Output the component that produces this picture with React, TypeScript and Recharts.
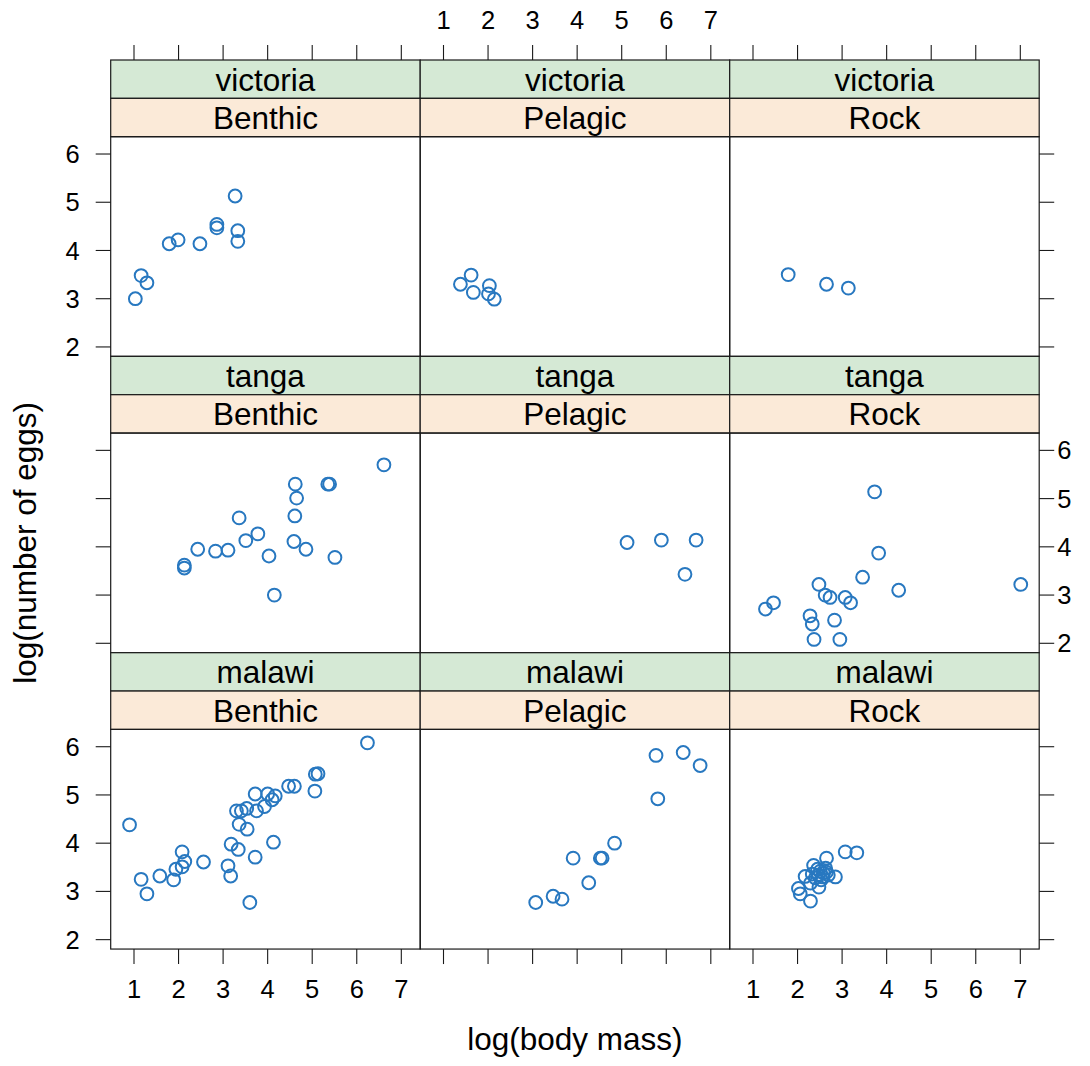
import React from 'react';
import { ScatterChart, Scatter, XAxis, YAxis } from 'recharts';

// ---------- data ----------
const lakes = ['victoria', 'tanga', 'malawi'];
const habitats = ['Benthic', 'Pelagic', 'Rock'];
const xTicks = [1, 2, 3, 4, 5, 6, 7];
const yTicks = [2, 3, 4, 5, 6];
const xTitle = 'log(body mass)';
const yTitle = 'log(number of eggs)';

const victoriaBenthicX = [3.27, 2.86, 2.86, 3.33, 3.33, 1.79, 1.99, 2.48, 1.16, 1.29, 1.03];
const victoriaBenthicY = [5.13, 4.54, 4.47, 4.41, 4.19, 4.14, 4.22, 4.14, 3.48, 3.33, 3.0];
const victoriaPelagicX = [1.38, 1.62, 1.67, 2.03, 2.01, 2.14];
const victoriaPelagicY = [3.3, 3.49, 3.13, 3.27, 3.1, 2.99];
const victoriaRockX = [1.79, 2.65, 3.14];
const victoriaRockY = [3.5, 3.3, 3.22];

const tangaBenthicX = [6.61, 4.62, 5.35, 5.39, 4.65, 4.61, 3.36, 3.78, 3.51, 4.59, 4.86, 2.43, 2.83, 3.11, 4.03, 5.51, 2.13, 2.13, 4.15];
const tangaBenthicY = [5.7, 5.3, 5.3, 5.3, 5.01, 4.64, 4.6, 4.27, 4.13, 4.11, 3.95, 3.95, 3.91, 3.93, 3.81, 3.78, 3.62, 3.56, 3.0];
const tangaPelagicX = [5.12, 5.89, 6.67, 6.42];
const tangaPelagicY = [4.09, 4.14, 4.14, 3.43];
const tangaRockX = [3.73, 3.82, 3.46, 2.48, 4.27, 7.01, 2.62, 2.73, 3.07, 3.19, 1.46, 1.28, 2.28, 2.33, 2.83, 2.37, 2.95];
const tangaRockY = [5.14, 3.87, 3.37, 3.22, 3.1, 3.22, 3.0, 2.95, 2.95, 2.84, 2.84, 2.71, 2.57, 2.4, 2.48, 2.08, 2.08];

const malawiBenthicX = [6.24, 5.07, 5.13, 5.06, 4.47, 4.6, 3.72, 4.0, 4.17, 4.1, 3.93, 3.75, 3.53, 3.41, 3.3, 3.36, 3.54, 4.13, 3.18, 3.34, 3.72, 0.9, 2.08, 2.14, 2.56, 2.08, 1.94, 3.11, 3.17, 1.58, 1.16, 1.89, 1.29, 3.6];
const malawiBenthicY = [6.08, 5.43, 5.44, 5.08, 5.18, 5.18, 5.02, 5.02, 4.98, 4.9, 4.76, 4.67, 4.72, 4.67, 4.67, 4.39, 4.29, 4.02, 3.98, 3.87, 3.71, 4.38, 3.82, 3.62, 3.61, 3.51, 3.46, 3.53, 3.32, 3.32, 3.25, 3.24, 2.95, 2.77];
const malawiPelagicX = [5.77, 6.38, 6.76, 5.81, 4.84, 3.91, 4.52, 4.56, 4.26, 3.46, 3.66, 3.07];
const malawiPelagicY = [5.82, 5.88, 5.61, 4.92, 4.0, 3.69, 3.69, 3.69, 3.18, 2.9, 2.84, 2.77];
const malawiRockX = [3.07, 3.33, 2.65, 2.36, 2.17, 2.85, 2.48, 2.02, 2.06, 2.29, 2.45, 2.51, 2.58, 2.65, 2.47, 2.56, 2.4, 2.63, 2.69, 2.33, 2.29, 2.53];
const malawiRockY = [3.82, 3.8, 3.69, 3.54, 3.31, 3.3, 3.09, 3.06, 2.95, 2.8, 3.46, 3.42, 3.38, 3.4, 3.34, 3.3, 3.28, 3.48, 3.34, 3.36, 3.17, 3.24];

const panelSeries: number[][][][] = [
  [[victoriaBenthicX, victoriaBenthicY], [victoriaPelagicX, victoriaPelagicY], [victoriaRockX, victoriaRockY]],
  [[tangaBenthicX, tangaBenthicY], [tangaPelagicX, tangaPelagicY], [tangaRockX, tangaRockY]],
  [[malawiBenthicX, malawiBenthicY], [malawiPelagicX, malawiPelagicY], [malawiRockX, malawiRockY]],
];

// ---------- layout / style ----------
const W = 1090;
const H = 1066;
const FONT = '"Liberation Sans", Arial, Helvetica, sans-serif';
const COL_LEFT = 110.7;
const COL_W = 309.5;
const ROW_TOP = 60;
const ROW_H = 296.35;
const STRIP_H = 38.35;
const PANEL_H = ROW_H - 2 * STRIP_H;
const X_DOMAIN: [number, number] = [0.477, 7.424];
const Y_MIN = 1.805;
const Y_MAX = 6.359;
const Y_TOP_EXT = Y_MAX + ((Y_MAX - Y_MIN) * (2 * STRIP_H)) / PANEL_H;
const AX_W = 45;
const AX_H = 50;
const TICK_SIZE = 15;
const TICK_MARGIN = 16;
const RIGHT_TICK_MARGIN = 3;
const TICK_FONT = 25.5;
const TEXT_FONT = 31.5;
const LINE = '#1a1a1a';
const POINT = '#2878c0';
const STRIP_OUTER = '#d5e9d5';
const STRIP_INNER = '#fbead8';

const toPoints = (xs: number[], ys: number[]) => xs.map((x, i) => ({ x, y: ys[i] }));

const Ring = (props: any) => {
  const { cx, cy } = props;
  if (cx == null || cy == null) return <g />;
  return <circle cx={cx} cy={cy} r={6.4} fill="none" stroke={POINT} strokeWidth={2} />;
};

const tickStyle = { fontSize: TICK_FONT, fill: '#000', fontFamily: FONT };
const lineStyle = { stroke: LINE, strokeWidth: 1.1 };
const noLabel = () => '';
const plainLabel = (v: number) => String(v);

function Panel({ r, c }: { r: number; c: number }) {
  const [xs, ys] = panelSeries[r][c];
  const data = toPoints(xs, ys);
  const colLeft = COL_LEFT + c * COL_W;
  const rowTop = ROW_TOP + r * ROW_H;
  const margin = {
    top: rowTop - AX_H,
    bottom: H - (rowTop + ROW_H) - AX_H,
    left: colLeft - AX_W,
    right: W - (colLeft + COL_W) - AX_W,
  };
  const showTop = r === 0;
  const showBottom = r === 2;
  const showLeft = c === 0;
  const showRight = c === 2;
  const topLabels = showTop && c === 1;
  const bottomLabels = showBottom && c !== 1;
  const leftLabels = showLeft && r !== 1;
  const rightLabels = showRight && r === 1;
  return (
    <div style={{ position: 'absolute', left: 0, top: 0, width: W, height: H }}>
      <ScatterChart width={W} height={H} margin={margin}>
        <XAxis
          xAxisId="b"
          orientation="bottom"
          type="number"
          dataKey="x"
          domain={X_DOMAIN}
          allowDataOverflow
          ticks={xTicks}
          interval={0}
          height={AX_H}
          axisLine={false}
          tickLine={showBottom ? lineStyle : false}
          tickSize={TICK_SIZE}
          tickMargin={TICK_MARGIN}
          tick={tickStyle}
          tickFormatter={bottomLabels ? plainLabel : noLabel}
        />
        <XAxis
          xAxisId="t"
          orientation="top"
          type="number"
          dataKey="x"
          domain={X_DOMAIN}
          allowDataOverflow
          ticks={xTicks}
          interval={0}
          height={AX_H}
          axisLine={false}
          tickLine={showTop ? lineStyle : false}
          tickSize={TICK_SIZE}
          tickMargin={TICK_MARGIN}
          tick={tickStyle}
          tickFormatter={topLabels ? plainLabel : noLabel}
        />
        <YAxis
          yAxisId="l"
          orientation="left"
          type="number"
          dataKey="y"
          domain={[Y_MIN, Y_TOP_EXT]}
          allowDataOverflow
          ticks={yTicks}
          interval={0}
          width={AX_W}
          axisLine={false}
          tickLine={showLeft ? lineStyle : false}
          tickSize={TICK_SIZE}
          tickMargin={TICK_MARGIN}
          tick={tickStyle}
          tickFormatter={leftLabels ? plainLabel : noLabel}
        />
        <YAxis
          yAxisId="r"
          orientation="right"
          type="number"
          dataKey="y"
          domain={[Y_MIN, Y_TOP_EXT]}
          allowDataOverflow
          ticks={yTicks}
          interval={0}
          width={AX_W}
          axisLine={false}
          tickLine={showRight ? lineStyle : false}
          tickSize={TICK_SIZE}
          tickMargin={RIGHT_TICK_MARGIN}
          tick={tickStyle}
          tickFormatter={rightLabels ? plainLabel : noLabel}
        />
        <Scatter
          xAxisId="b"
          yAxisId="l"
          data={data}
          shape={<Ring />}
          isAnimationActive={false}
        />
      </ScatterChart>
    </div>
  );
}

function Frame() {
  const items: React.ReactNode[] = [];
  for (let r = 0; r < 3; r++) {
    for (let c = 0; c < 3; c++) {
      const x = COL_LEFT + c * COL_W;
      const y = ROW_TOP + r * ROW_H;
      items.push(
        <g key={`s${r}${c}`}>
          <rect x={x} y={y} width={COL_W} height={STRIP_H} fill={STRIP_OUTER} stroke={LINE} strokeWidth={1.2} />
          <text x={x + COL_W / 2} y={y + STRIP_H / 2 + 11.5} textAnchor="middle" fontSize={TEXT_FONT} fontFamily={FONT} fill="#000">
            {lakes[r]}
          </text>
          <rect x={x} y={y + STRIP_H} width={COL_W} height={STRIP_H} fill={STRIP_INNER} stroke={LINE} strokeWidth={1.2} />
          <text x={x + COL_W / 2} y={y + STRIP_H * 1.5 + 11.5} textAnchor="middle" fontSize={TEXT_FONT} fontFamily={FONT} fill="#000">
            {habitats[c]}
          </text>
          <rect x={x} y={y + 2 * STRIP_H} width={COL_W} height={PANEL_H} fill="none" stroke={LINE} strokeWidth={1.2} />
        </g>
      );
    }
  }
  const yMid = (ROW_TOP + 2 * STRIP_H + ROW_TOP + 3 * ROW_H) / 2;
  return (
    <svg width={W} height={H} style={{ position: 'absolute', left: 0, top: 0 }}>
      <rect x={0} y={0} width={W} height={H} fill="#fff" />
      {items}
      <text x={COL_LEFT + (3 * COL_W) / 2} y={1050} textAnchor="middle" fontSize={TEXT_FONT} fontFamily={FONT} fill="#000">
        {xTitle}
      </text>
      <text
        x={36}
        y={yMid}
        textAnchor="middle"
        fontSize={TEXT_FONT}
        fontFamily={FONT}
        fill="#000"
        transform={`rotate(-90 36 ${yMid})`}
      >
        {yTitle}
      </text>
    </svg>
  );
}

export default function App() {
  const panels: React.ReactNode[] = [];
  for (let r = 0; r < 3; r++) for (let c = 0; c < 3; c++) panels.push(<Panel key={`${r}-${c}`} r={r} c={c} />);
  return (
    <div style={{ position: 'absolute', left: 0, top: 0, width: W, height: H, background: '#fff', overflow: 'hidden' }}>
      <Frame />
      {panels}
    </div>
  );
}
